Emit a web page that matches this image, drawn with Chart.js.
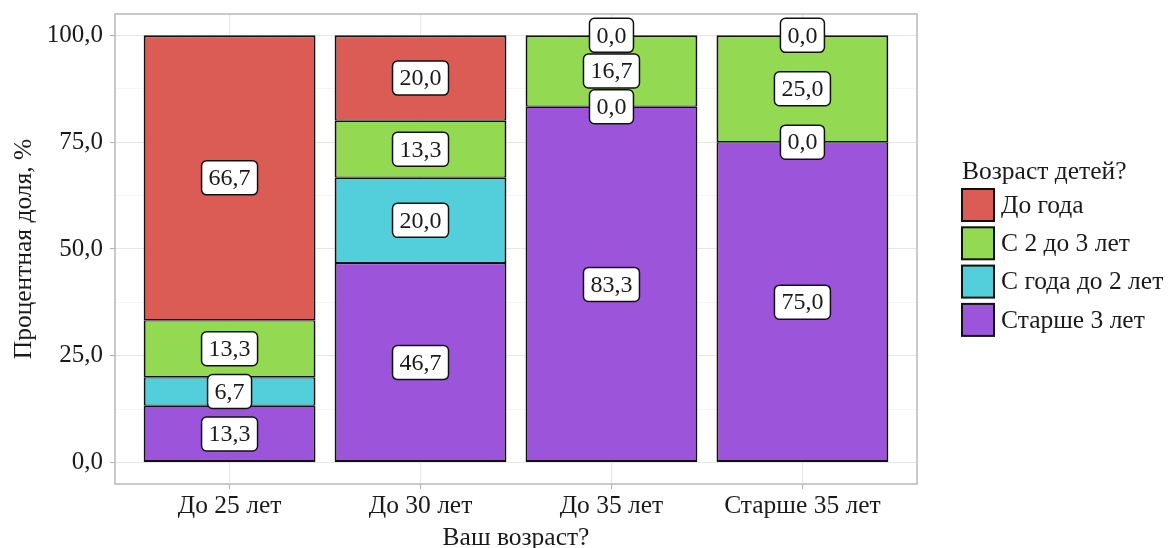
<!DOCTYPE html>
<html>
<head>
<meta charset="utf-8">
<script src="https://cdn.jsdelivr.net/npm/chart.js@4.4.0/dist/chart.umd.min.js"></script>
<style>
  html, body { margin: 0; padding: 0; background: #ffffff; }
  canvas { display: block; }
</style>
</head>
<body>
<canvas id="chart" width="1168" height="548"></canvas>
<script>
// Age groups of respondents (x axis)
const categories = ['До 25 лет', 'До 30 лет', 'До 35 лет', 'Старше 35 лет'];

// Share of each child-age answer within an age group, %
const underYear  = [66.7, 20.0, 0.0, 0.0];   // До года
const twoToThree = [13.3, 13.3, 16.7, 25.0]; // С 2 до 3 лет
const yearToTwo  = [6.7, 20.0, 0.0, 0.0];    // С года до 2 лет
const overThree  = [13.3, 46.7, 83.3, 75.0]; // Старше 3 лет

// Value axis ticks
const yMajorTicks = [0, 25, 50, 75, 100];
const yMinorTicks = [12.5, 37.5, 62.5, 87.5];

const FONT = "'Liberation Serif', 'Times New Roman', serif";
const TEXT = '#1a1a1a';

const fmt = v => v.toFixed(1).replace('.', ',');
const toPoints = arr => arr.map((v, i) => ({ x: i + 1, y: v }));

// Stacked bottom-up; the legend lists them top-down
const series = [
  { label: 'Старше 3 лет',    values: overThree,  color: '#9C55DA' },
  { label: 'С года до 2 лет', values: yearToTwo,  color: '#52CFDA' },
  { label: 'С 2 до 3 лет',    values: twoToThree, color: '#94D952' },
  { label: 'До года',         values: underYear,  color: '#DB5C54' }
];

// Outer edges of a stack get a full outline, shared edges a thinner one
// so that two touching segments form a single line.
function segmentBorder(c) {
  const i = c.dataIndex, d = c.datasetIndex;
  const below = series.slice(0, d).some(s => s.values[i] > 0);
  const above = series.slice(d + 1).some(s => s.values[i] > 0);
  return { left: 2, right: 2, top: above ? 1.25 : 2, bottom: below ? 1.25 : 2 };
}

// Boxed value labels centred on every segment
const segmentLabels = {
  id: 'segmentLabels',
  afterDatasetsDraw(chart) {
    const ctx = chart.ctx;
    ctx.save();
    ctx.font = '24px ' + FONT;
    ctx.textAlign = 'center';
    ctx.textBaseline = 'middle';
    chart.data.datasets.forEach((ds, di) => {
      const meta = chart.getDatasetMeta(di);
      meta.data.forEach((bar, i) => {
        const text = fmt(ds.data[i].y);
        const cx = bar.x;
        const cy = (bar.y + bar.base) / 2;
        const w = ctx.measureText(text).width + 14;
        const h = 34;
        ctx.beginPath();
        ctx.roundRect(cx - w / 2, cy - h / 2, w, h, 5);
        ctx.fillStyle = '#ffffff';
        ctx.fill();
        ctx.lineWidth = 1.5;
        ctx.strokeStyle = '#111111';
        ctx.stroke();
        ctx.fillStyle = TEXT;
        ctx.fillText(text, cx, cy + 1);
      });
    });
    ctx.restore();
  }
};

// Panel frame and the key on the right
const panelAndKey = {
  id: 'panelAndKey',
  afterDraw(chart) {
    const ctx = chart.ctx;
    const a = chart.chartArea;
    ctx.save();
    ctx.strokeStyle = '#b8b8b8';
    ctx.lineWidth = 1.5;
    ctx.strokeRect(a.left, a.top, a.right - a.left, a.bottom - a.top);

    const x0 = a.right + 45;
    ctx.font = '25.5px ' + FONT;
    ctx.textAlign = 'left';
    ctx.textBaseline = 'middle';
    ctx.fillStyle = TEXT;
    ctx.fillText('Возраст детей?', x0, 172);

    const items = chart.data.datasets.slice().reverse();
    items.forEach((ds, i) => {
      const top = 189 + i * 38.3;
      ctx.fillStyle = ds.backgroundColor;
      ctx.fillRect(x0, top, 32, 32);
      ctx.lineWidth = 2;
      ctx.strokeStyle = '#111111';
      ctx.strokeRect(x0, top, 32, 32);
      ctx.fillStyle = TEXT;
      ctx.fillText(ds.label, x0 + 39, top + 17);
    });
    ctx.restore();
  }
};

new Chart(document.getElementById('chart'), {
  type: 'bar',
  data: {
    datasets: series.map(s => ({
      label: s.label,
      data: toPoints(s.values),
      backgroundColor: s.color,
      borderColor: '#111111',
      borderWidth: segmentBorder,
      borderSkipped: false,
      barPercentage: 0.9,
      categoryPercentage: 1.0
    }))
  },
  options: {
    responsive: false,
    animation: false,
    layout: { padding: { left: 0, right: 251, top: 14, bottom: 0 } },
    plugins: {
      legend: { display: false },
      tooltip: { enabled: false }
    },
    scales: {
      x: {
        type: 'linear',
        min: 0.4,
        max: 4.6,
        offset: false,
        stacked: true,
        afterBuildTicks: s => { s.ticks = categories.map((_, i) => ({ value: i + 1 })); },
        afterFit: s => { s.height = 64; s.paddingLeft = 0; s.paddingRight = 0; },
        ticks: {
          callback: v => categories[v - 1],
          font: { family: FONT, size: 25.5 },
          color: TEXT,
          padding: 2,
          autoSkip: false,
          maxRotation: 0
        },
        grid: { offset: false, color: '#e8e8e8', lineWidth: 1.1, tickLength: 5, tickColor: '#b3b3b3' },
        border: { display: false },
        title: {
          display: true,
          text: 'Ваш возраст?',
          font: { family: FONT, size: 25.5, lineHeight: 0.8 },
          color: TEXT,
          padding: 0
        }
      },
      y: {
        min: -5,
        max: 105,
        stacked: true,
        afterBuildTicks: s => {
          s.ticks = yMajorTicks.concat(yMinorTicks).sort((p, q) => p - q).map(v => ({ value: v }));
        },
        afterFit: s => { s.width = 115; s.paddingTop = 0; s.paddingBottom = 0; },
        ticks: {
          callback: v => yMajorTicks.includes(v) ? fmt(v) : '',
          font: { family: FONT, size: 25 },
          color: TEXT,
          padding: 7
        },
        grid: {
          color: c => yMajorTicks.includes(c.tick.value) ? '#e6e6e6' : '#f2f2f2',
          lineWidth: c => yMajorTicks.includes(c.tick.value) ? 1.1 : 0.7,
          tickColor: c => yMajorTicks.includes(c.tick.value) ? '#b3b3b3' : 'rgba(0,0,0,0)',
          tickLength: 5
        },
        border: { display: false },
        title: {
          display: true,
          text: 'Процентная доля, %',
          font: { family: FONT, size: 25.5 },
          color: TEXT,
          padding: { top: 9, bottom: 0 }
        }
      }
    }
  },
  plugins: [segmentLabels, panelAndKey]
});
</script>
</body>
</html>
